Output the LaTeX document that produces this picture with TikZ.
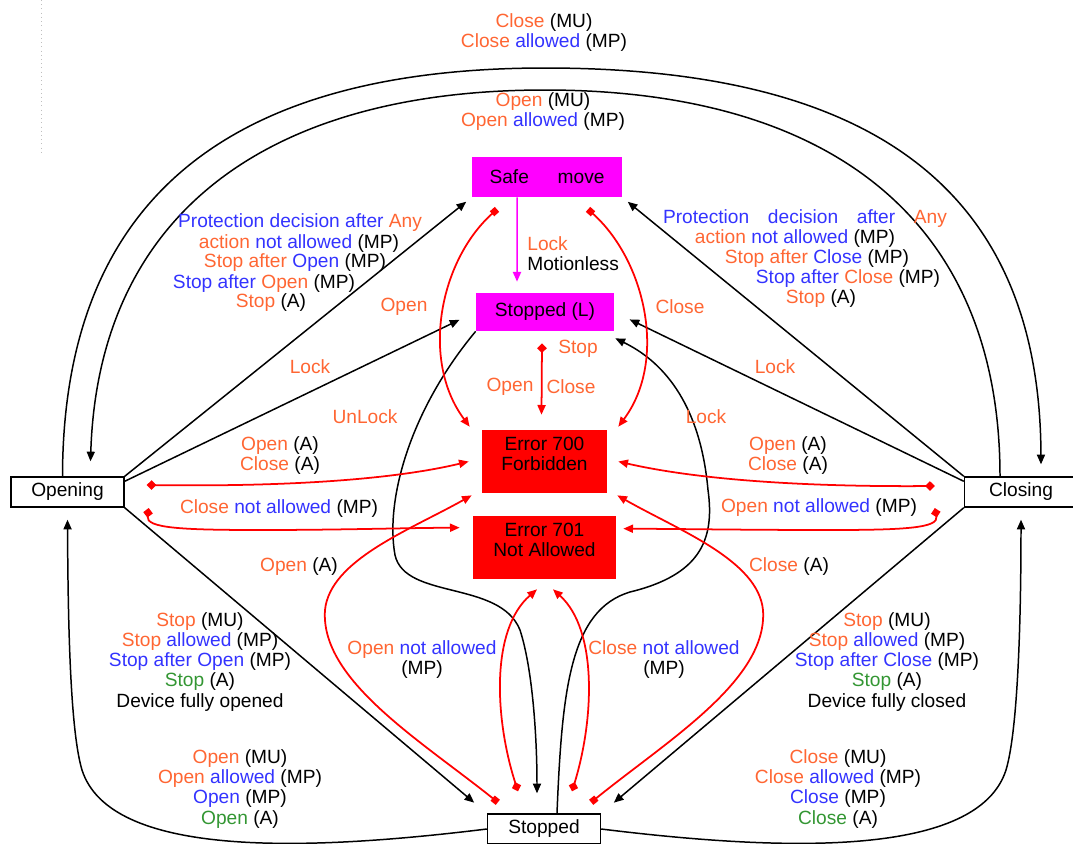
\documentclass[tikz,border=0pt]{standalone}
\usepackage{fontspec}
\setmainfont{Liberation Sans}
\usetikzlibrary{arrows.meta}

\definecolor{orng}{RGB}{255,102,51}
\definecolor{blu}{RGB}{51,51,255}
\definecolor{grn}{RGB}{51,150,51}
\definecolor{mgnt}{RGB}{255,0,255}
\newcommand{\orw}[1]{\textcolor{orng}{#1}}
\newcommand{\blw}[1]{\textcolor{blu}{#1}}
\newcommand{\grw}[1]{\textcolor{grn}{#1}}

\tikzset{
  state/.style={draw, line width=0.8pt, fill=white, minimum width=2.26cm, minimum height=0.6cm, inner sep=0pt},
  magbox/.style={fill=mgnt, inner sep=0pt},
  errbox/.style={fill=red, inner sep=0pt, align=center},
  lbl/.style={align=center, inner sep=0pt},
  arr/.style={line width=0.85pt, -{Triangle[length=5.5pt,width=4.6pt]}},
  magarr/.style={mgnt, line width=0.85pt, -{Triangle[length=5.5pt,width=4.6pt]}},
  rdia/.style={red, line width=1pt, {Diamond[length=5.5pt,width=5.5pt]}-{Triangle[length=5.5pt,width=4.6pt]}},
  rsq/.style={red, line width=1pt, {Square[length=3.8pt,width=3.8pt]}-{Triangle[length=5.5pt,width=4.6pt]}},
}

\begin{document}
\begin{tikzpicture}[x=0.02cm, y=-0.02cm, every node/.style={font=\fontsize{10.9}{11.4}\selectfont}]
\useasboundingbox (0,0) rectangle (1073,843);
\clip (0,0) rectangle (1073,843);
\draw[gray!50, dotted] (41,0) -- (41,152);

% states
\node[state] (opening) at (67.5,492) {Opening};
\node[state] (closing) at (1021,492) {Closing};
\node[state] (stopped) at (544,829) {Stopped};
\node[magbox, minimum width=3cm, minimum height=0.8cm] (safe) at (547,177) {\makebox[2.3cm][s]{Safe move}};
\node[magbox, minimum width=2.76cm, minimum height=0.76cm] (stopL) at (545,312) {Stopped (L)};
\node[errbox, minimum width=2.5cm, minimum height=1.26cm] (err700) at (544.5,461.5) {Error 700\\Forbidden\\[-3pt]};
\node[errbox, minimum width=2.86cm, minimum height=1.26cm] (err701) at (544.5,547.5) {Error 701\\Not Allowed\\[-3pt]};

% black transitions
\draw[arr, shorten >=0.14cm] (opening.north east) -- (safe.south west);
\draw[arr, shorten >=0.36cm] ([yshift=-0.1cm]opening.north east) -- (stopL.west);
\draw[arr, shorten >=0.14cm] (closing.north west) -- (safe.south east);
\draw[arr, shorten >=0.34cm] ([yshift=-0.1cm]closing.north west) -- (stopL.east);
\draw[arr, shorten >=0.33cm] (opening.south east) -- (stopped.north west);
\draw[arr, shorten >=0.33cm] (closing.south west) -- (stopped.north east);
\draw[arr] ([xshift=-0.1cm]opening.north) .. controls (63,190) and (240,68) .. (545,68)
  .. controls (860,68) and (1040,180) .. ([shift={(20,-12)}]closing.north);
\draw[arr] ([xshift=-0.42cm]closing.north) .. controls (1000,220) and (830,90) .. (545,90)
  .. controls (260,90) and (98,220) .. ([shift={(23,-15)}]opening.north);
\draw[arr] (stopped.west) .. controls (300,852) and (110,857) .. (82,770)
  .. controls (70,730) and (68,620) .. ([yshift=-0.24cm]opening.south);
\draw[arr] (stopped.east) .. controls (788,852) and (978,857) .. (1006,770)
  .. controls (1018,730) and (1021,620) .. ([yshift=-0.24cm]closing.south);
\draw[arr] (stopL.south west) .. controls (410,410) and (385,500) .. (395,555)
  .. controls (405,600) and (500,580) .. (520,630)
  .. controls (533,670) and (537,740) .. ([shift={(-7,-20)}]stopped.north);
\draw[arr] ([xshift=0.26cm]stopped.north) .. controls (562,690) and (570,610) .. (630,592)
  .. controls (700,575) and (715,540) .. (708,490)
  .. controls (700,400) and (660,360) .. ([shift={(1,7)}]stopL.south east);
\draw[magarr] ([xshift=-0.6cm]safe.south) -- ([shift={(-28,-11)}]stopL.north);

% red transitions
\draw[rsq] ([shift={(-50,12)}]safe.south) .. controls (440,260) and (420,360) .. ([shift={(-12,-3)}]err700.north west);
\draw[rsq] ([shift={(41,12)}]safe.south) .. controls (645,260) and (668,360) .. ([shift={(11,-3)}]err700.north east);
\draw[rdia] ([shift={(-3,12)}]stopL.south) -- ([shift={(-3,-15)}]err700.north);
\draw[rdia] ([shift={(22,-7)}]opening.east) .. controls (300,487) and (400,478) .. ([xshift=-0.26cm]err700.west);
\draw[rdia] ([shift={(24,16)}]opening.east) .. controls (146,528) and (180,530) .. (260,530)
  .. controls (340,530) and (400,528) .. ([shift={(-13,12)}]err701.north west);
\draw[rdia] ([shift={(-29,-6)}]closing.west) .. controls (790,487) and (690,478) .. ([xshift=0.22cm]err700.east);
\draw[rdia] ([shift={(-29,16)}]closing.west) .. controls (939,528) and (905,530) .. (830,530)
  .. controls (750,530) and (690,529) .. ([shift={(7,13)}]err701.north east);
\draw[rsq] ([shift={(11,-11)}]stopped.north west) .. controls (420,740) and (320,680) .. (325,610)
  .. controls (330,560) and (410,530) .. ([shift={(-10,2)}]err700.south west);
\draw[rsq] ([shift={(-10,-11)}]stopped.north east) .. controls (668,740) and (768,680) .. (763,610)
  .. controls (758,560) and (678,530) .. ([shift={(10,2)}]err700.south east);
\draw[rdia] ([shift={(-26,-22)}]stopped.north) .. controls (495,720) and (490,630) .. ([shift={(-7.5,10)}]err701.south);
\draw[rdia] ([shift={(28,-22)}]stopped.north) .. controls (594,720) and (598,630) .. ([shift={(8.5,10)}]err701.south);

% labels
\node[lbl] (tClose) at (544,33) {\orw{Close} (MU)\\\orw{Close} \blw{allowed} (MP)};
\node[lbl] (tOpen) at (543,112) {\orw{Open} (MU)\\\orw{Open} \blw{allowed} (MP)};
\node[lbl] (pl1) at (300,223) {\blw{Protection decision after} \orw{Any}};
\node[lbl] (pl2) at (299,244) {\orw{action} \blw{not allowed} (MP)};
\node[lbl] (pl3) at (295,263) {\orw{Stop after} \blw{Open} (MP)};
\node[lbl] (pl4) at (264,284) {\blw{Stop after} \orw{Open} (MP)};
\node[lbl] (pl5) at (271,303) {\orw{Stop} (A)};
\node[lbl] (pr1) at (805,219) {\makebox[5.68cm][s]{\blw{Protection decision after} \orw{Any}}};
\node[lbl] (pr2) at (795,239) {\orw{action} \blw{not allowed} (MP)};
\node[lbl] (pr3) at (817,259) {\orw{Stop after} \blw{Close} (MP)};
\node[lbl] (pr4) at (848,279) {\blw{Stop after} \orw{Close} (MP)};
\node[lbl] (pr5) at (821,299) {\orw{Stop} (A)};
\node[lbl] (lOpen) at (404,307) {\orw{Open}};
\node[lbl] (rClose) at (680,307) {\orw{Close}};
\node[lbl, anchor=west] (lockMot) at (527,254) [align=left] {\orw{Lock}\\Motionless};
\node[lbl] (lLock) at (310,367) {\orw{Lock}};
\node[lbl] (rLock) at (775,367) {\orw{Lock}};
\node[lbl] (stopLbl) at (578,349) {\orw{Stop}};
\node[lbl] (openLbl) at (510,387) {\orw{Open}};
\node[lbl] (closeLbl) at (571,387) {\orw{Close}};
\node[lbl] (unlock) at (365,417) {\orw{UnLock}};
\node[lbl] (cLock) at (706,417) {\orw{Lock}};
\node[lbl] (lAuto) at (280,456) {\orw{Open} (A)\\\orw{Close} (A)};
\node[lbl] (rAuto) at (788,456) {\orw{Open} (A)\\\orw{Close} (A)};
\node[lbl] (lNA) at (279,509) {\orw{Close} \blw{not allowed} (MP)};
\node[lbl] (rNA) at (819,508) {\orw{Open} \blw{not allowed} (MP)};
\node[lbl] (lOA) at (299,567) {\orw{Open} (A)};
\node[lbl] (rCA) at (789,567) {\orw{Close} (A)};
\node[lbl] (lStop) at (200,662) {\orw{Stop} (MU)\\\orw{Stop} \blw{allowed} (MP)\\\blw{Stop after Open} (MP)\\\grw{Stop} (A)\\Device fully opened};
\node[lbl] (rStop) at (887,662) {\orw{Stop} (MU)\\\orw{Stop} \blw{allowed} (MP)\\\blw{Stop after Close} (MP)\\\grw{Stop} (A)\\Device fully closed};
\node[lbl] (oNA) at (422,660) {\orw{Open} \blw{not allowed}\\(MP)};
\node[lbl] (cNA) at (664,660) {\orw{Close} \blw{not allowed}\\(MP)};
\node[lbl] (lOpenBlk) at (240,789) {\orw{Open} (MU)\\\orw{Open} \blw{allowed} (MP)\\\blw{Open} (MP)\\\grw{Open} (A)};
\node[lbl] (rCloseBlk) at (838,789) {\orw{Close} (MU)\\\orw{Close} \blw{allowed} (MP)\\\blw{Close} (MP)\\\grw{Close} (A)};
\end{tikzpicture}
\end{document}
